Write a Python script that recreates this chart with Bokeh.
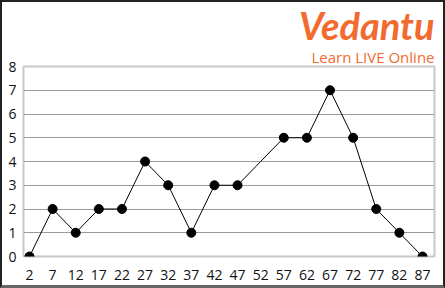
from bokeh.plotting import figure
from bokeh.models import Title, FixedTicker, Range1d
from bokeh.embed import file_html
from bokeh.resources import INLINE

# data
x_values = [2, 7, 12, 17, 22, 27, 32, 37, 42, 47, 52, 57, 62, 67, 72, 77, 82, 87]
y_values = [0, 2, 1, 2, 2, 4, 3, 1, 3, 3, 4, 5, 5, 7, 5, 2, 1, 0]
marked = [True] * 10 + [False] + [True] * 7
y_ticks = [0, 1, 2, 3, 4, 5, 6, 7, 8]
x_ticks = x_values

mx = [x for x, m in zip(x_values, marked) if m]
my = [y for y, m in zip(y_values, marked) if m]

p = figure(width=445, height=288, output_backend="svg", toolbar_location=None,
           x_range=Range1d(0.7, 89.6), y_range=Range1d(0, 8),
           min_border_left=21, min_border_right=13, min_border_top=0, min_border_bottom=34)
p.styles = {"border-left": "2px solid #222", "border-top": "2px solid #222",
            "border-right": "2px solid #222", "border-bottom": "3px solid #666",
            "box-sizing": "border-box"}
p.background_fill_color = "white"
p.border_fill_color = "white"
p.outline_line_color = "#c8c8c8"
p.outline_line_width = 2

p.xgrid.visible = False
p.ygrid.ticker = FixedTicker(ticks=y_ticks)
p.ygrid.grid_line_color = "#9a9a9a"
p.ygrid.grid_line_width = 1

p.xaxis.ticker = FixedTicker(ticks=x_ticks)
p.yaxis.ticker = FixedTicker(ticks=y_ticks)
for ax in (p.xaxis[0], p.yaxis[0]):
    ax.axis_line_color = None
    ax.major_tick_line_color = None
    ax.minor_tick_line_color = None
    ax.major_label_text_font = "Open Sans"
    ax.major_label_text_font_size = "14px"
    ax.major_label_text_color = "#111111"
p.xaxis.major_label_standoff = 7
p.yaxis.major_label_standoff = 1

p.line(x_values, y_values, line_color="black", line_width=1)
p.scatter(mx, my, size=9, color="black")

t_sub = Title(text="Learn LIVE Online", align="right", text_font="Open Sans",
              text_font_size="15px", text_font_style="normal", text_color="#f26a2e",
              offset=0, standoff=0)
t_main = Title(text="Vedantu", align="right", text_font="Lato",
               text_font_size="38px", text_font_style="bold italic", text_color="#f26a2e",
               offset=0, standoff=-6)
p.add_layout(t_sub, "above")
p.add_layout(t_main, "above")

open("out.html", "w").write(file_html(p, INLINE))
